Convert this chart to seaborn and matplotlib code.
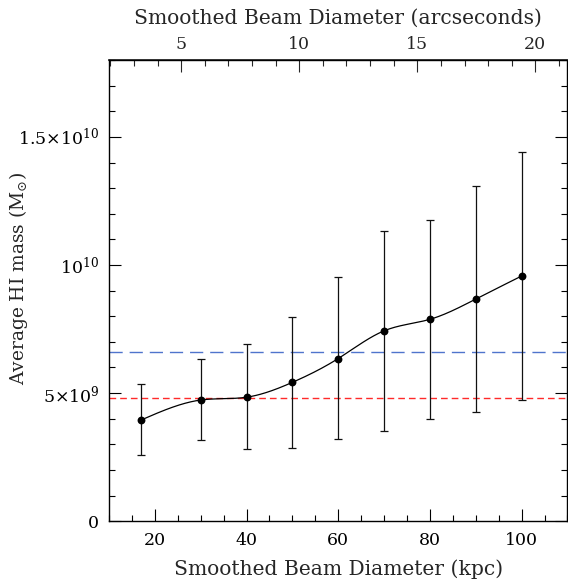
import numpy as np
import pandas as pd
import matplotlib
matplotlib.use("Agg")
import matplotlib.pyplot as plt
import seaborn as sns
from matplotlib.ticker import MultipleLocator

# === Data ===
beam_kpc = [17, 30, 40, 50, 60, 70, 80, 90, 100]
mass_mean = [3.95e9, 4.73e9, 4.84e9, 5.42e9, 6.35e9, 7.43e9, 7.88e9, 8.67e9, 9.57e9]
mass_upper = [5.34e9, 6.32e9, 6.90e9, 7.97e9, 9.52e9, 1.134e10, 1.176e10, 1.307e10, 1.44e10]
mass_lower = [2.57e9, 3.16e9, 2.81e9, 2.86e9, 3.19e9, 3.53e9, 4.00e9, 4.26e9, 4.73e9]
ref_blue = 6.60e9
ref_red = 4.79e9
kpc_per_arcsec = 5.15

ytick_vals = [0, 5e9, 1e10, 1.5e10]
ytick_labels = ["0", r"$5{\times}10^{9}$", r"$10^{10}$", r"$1.5{\times}10^{10}$"]

df = pd.DataFrame({"beam": beam_kpc, "mass": mass_mean,
                   "hi": mass_upper, "lo": mass_lower})


# === Natural cubic spline through the points (for the smooth curve) ===
def natural_spline(x, y, n=400):
    x = np.asarray(x, float)
    y = np.asarray(y, float)
    h = np.diff(x)
    m = len(x)
    A = np.zeros((m, m))
    b = np.zeros(m)
    A[0, 0] = A[-1, -1] = 1
    for i in range(1, m - 1):
        A[i, i - 1] = h[i - 1]
        A[i, i] = 2 * (h[i - 1] + h[i])
        A[i, i + 1] = h[i]
        b[i] = 6 * ((y[i + 1] - y[i]) / h[i] - (y[i] - y[i - 1]) / h[i - 1])
    M = np.linalg.solve(A, b)
    xs = np.linspace(x[0], x[-1], n)
    k = np.clip(np.searchsorted(x, xs) - 1, 0, m - 2)
    t0 = x[k + 1] - xs
    t1 = xs - x[k]
    hk = h[k]
    ys = (M[k] * t0 ** 3 / (6 * hk) + M[k + 1] * t1 ** 3 / (6 * hk)
          + (y[k] / hk - M[k] * hk / 6) * t0 + (y[k + 1] / hk - M[k + 1] * hk / 6) * t1)
    return xs, ys


# === Style ===
sns.set_theme(style="ticks")
plt.rcParams["font.family"] = ["DejaVu Serif"]
plt.rcParams["mathtext.fontset"] = "dejavuserif"
plt.rcParams["xtick.direction"] = "in"
plt.rcParams["ytick.direction"] = "in"

fig = plt.figure(figsize=(5.68, 5.83), dpi=100)
ax = fig.add_axes([0.192, 0.106, 0.807, 0.791])

# curve + points + error bars
xs, ys = natural_spline(df["beam"], df["mass"])
ax.plot(xs, ys, color="black", lw=0.9, zorder=3)
ax.errorbar(df["beam"], df["mass"],
            yerr=[df["mass"] - df["lo"], df["hi"] - df["mass"]],
            fmt="none", ecolor="#111111", elinewidth=0.9, capsize=3, capthick=0.9, zorder=2)
sns.scatterplot(data=df, x="beam", y="mass", ax=ax, color="black", s=32,
                edgecolor="black", linewidth=0, zorder=4)

# reference lines
ax.axhline(ref_blue, color="#4f74cc", lw=1.0, dashes=(9.5, 5), zorder=1)
ax.axhline(ref_red, color="#ff2a2a", lw=1.0, dashes=(4.8, 2.9), zorder=1)

# === Axes ===
ax.set_xlim(10, 110)
ax.set_ylim(0, 1.8e10)
ax.xaxis.set_major_locator(MultipleLocator(20))
ax.xaxis.set_minor_locator(MultipleLocator(5))
ax.set_yticks(ytick_vals, ytick_labels)
ax.yaxis.set_minor_locator(MultipleLocator(1e9))
ax.tick_params(axis="both", which="major", length=8.5, width=0.8, labelsize=12.5,
               color="black", labelcolor="black")
ax.tick_params(axis="both", which="minor", length=4, width=0.8, color="black")
ax.tick_params(axis="y", which="both", right=True, pad=7)
ax.tick_params(axis="x", which="both", top=False, pad=8)
for s in ax.spines.values():
    s.set_linewidth(1.0)
    s.set_color("black")

ax.set_xlabel("Smoothed Beam Diameter (kpc)", fontsize=14.6, labelpad=7)
ax.set_ylabel(r"Average HI mass (M$_{\odot}$)", fontsize=13.4)
ax.yaxis.set_label_coords(-0.172, 0.527)

top = ax.secondary_xaxis("top", functions=(lambda k: k / kpc_per_arcsec,
                                           lambda a: a * kpc_per_arcsec))
top.xaxis.set_major_locator(MultipleLocator(5))
top.xaxis.set_minor_locator(MultipleLocator(1))
top.tick_params(which="major", direction="in", length=8.5, width=0.8, labelsize=12.5, pad=5)
top.tick_params(which="minor", direction="in", length=4, width=0.8)
top.set_xlabel("Smoothed Beam Diameter (arcseconds)", fontsize=14.6, labelpad=9)
ax.set_facecolor("white")

fig.savefig("out.png", dpi=100)
